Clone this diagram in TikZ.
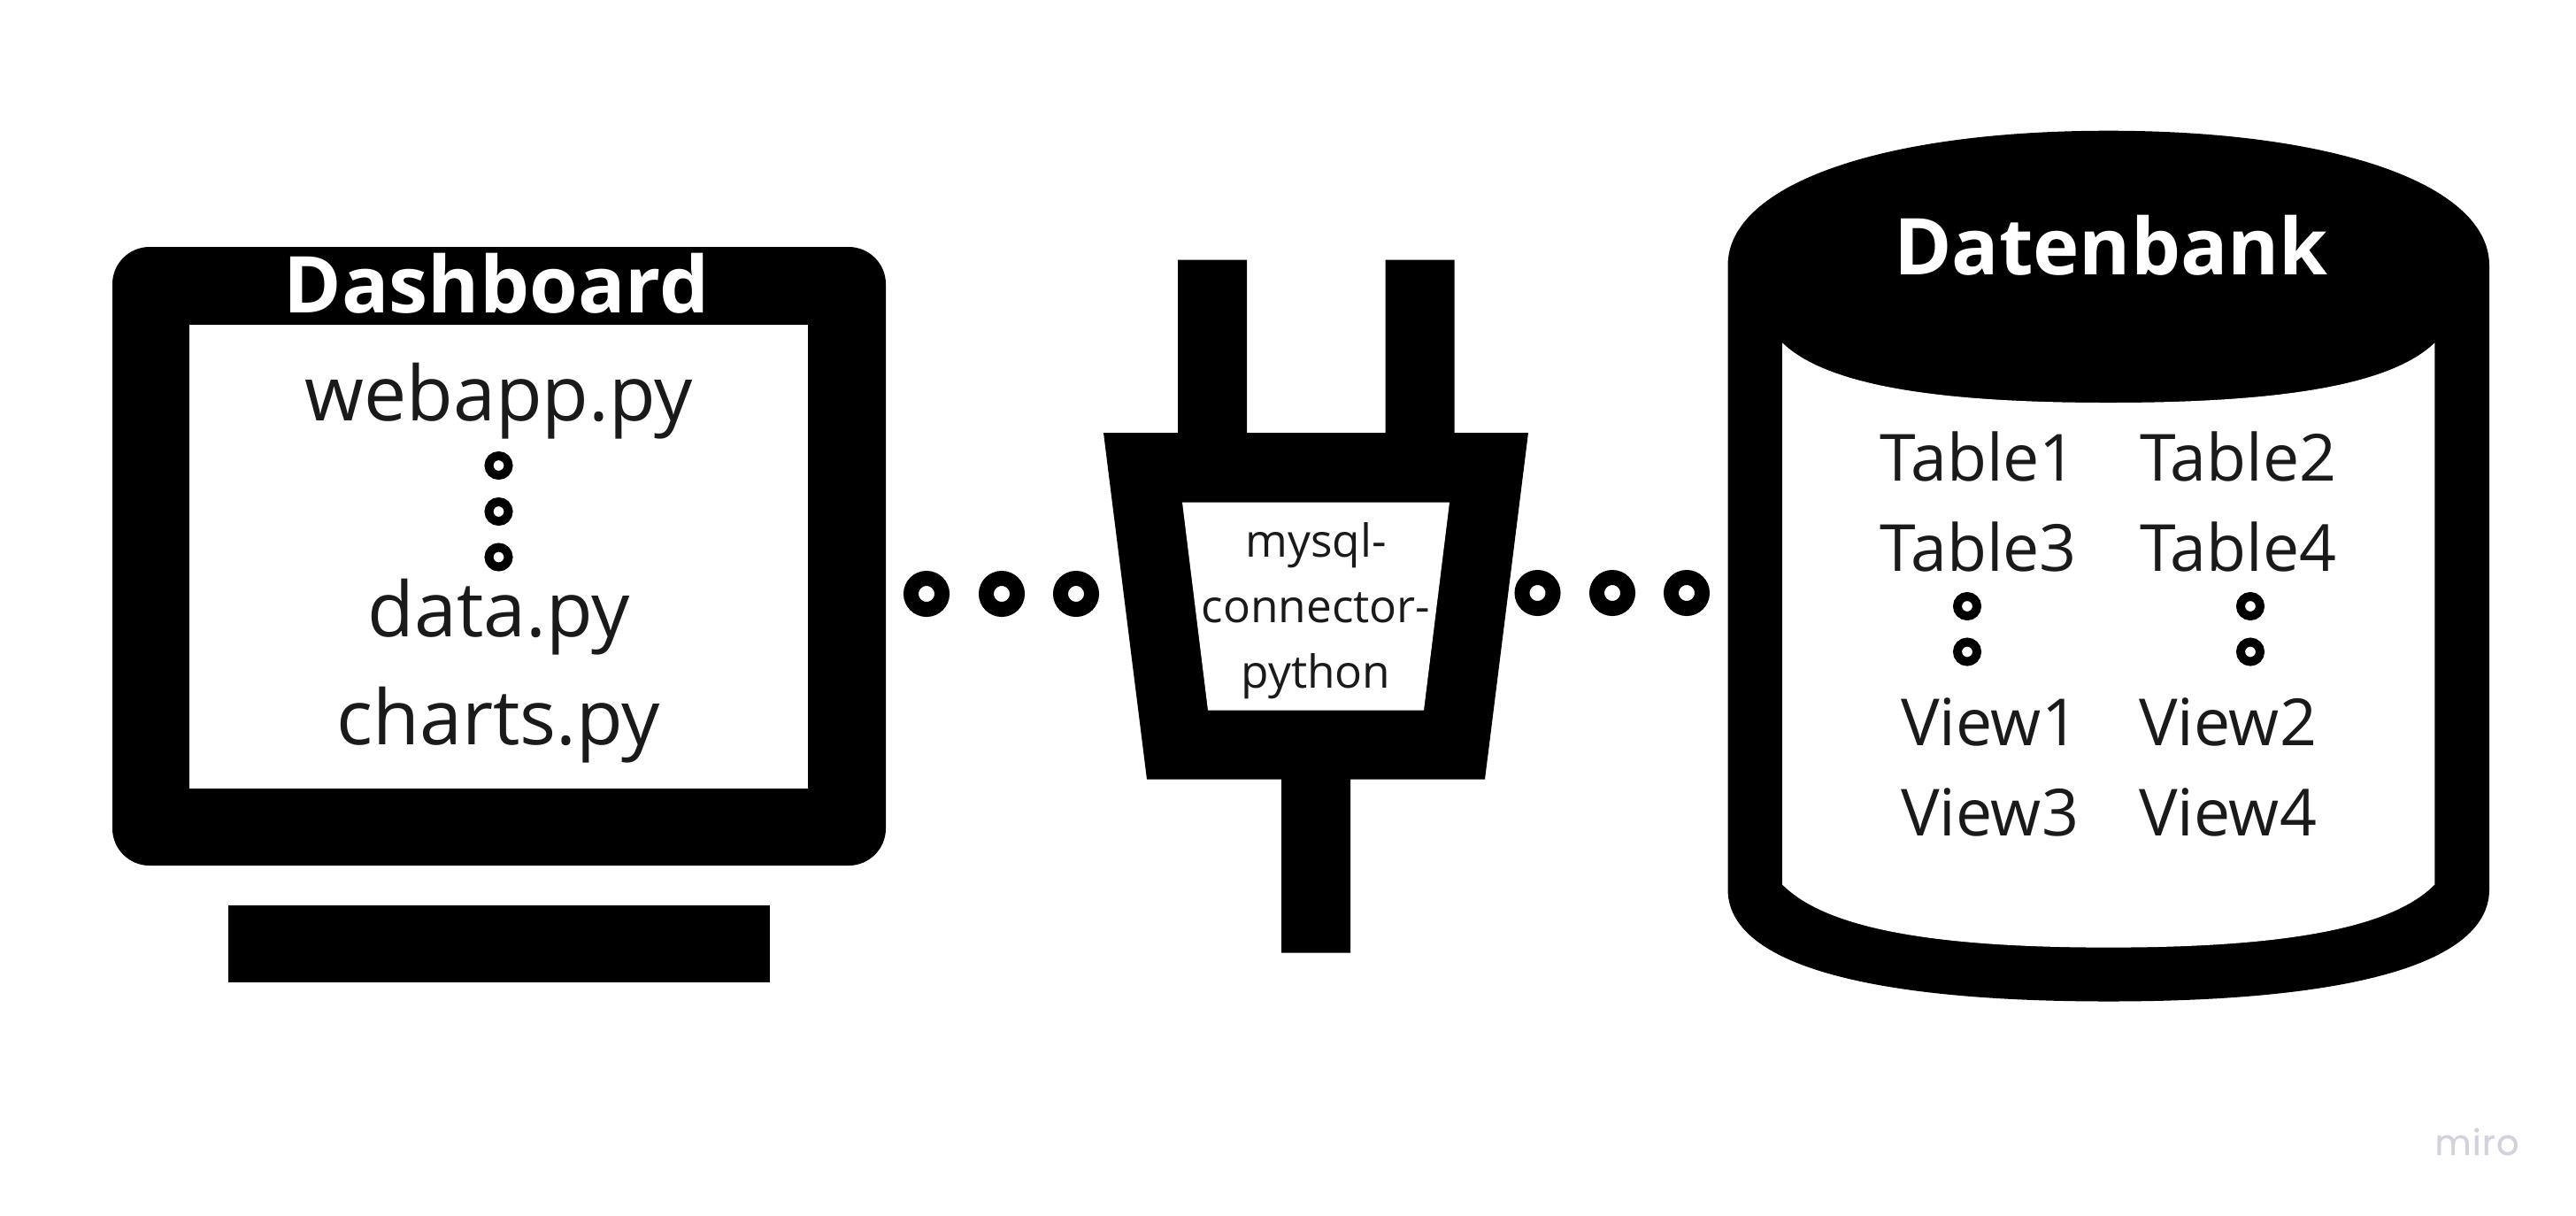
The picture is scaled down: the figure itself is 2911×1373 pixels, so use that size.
\documentclass[tikz,border=0pt]{standalone}
\usepackage{fontspec}
\setmainfont{Open Sans}
\newfontfamily\mirofont[LetterSpace=3,FakeBold=0.5]{Poppins}
\definecolor{ink}{HTML}{1A1A1A}
\definecolor{mirogray}{HTML}{D2D2DE}
\newcommand{\fsz}[1]{\fontsize{#1}{#1}\selectfont}
\tikzset{
  x=0.5pt,y=-0.5pt,
  solidshape/.style={fill=black,draw=none},
  hole/.style={fill=white,draw=none},
  label/.style={inner sep=0pt,outer sep=0pt,anchor=base,text=ink},
  titlelabel/.style={inner sep=0pt,outer sep=0pt,anchor=base,text=white,font=\bfseries\fsz{44.3}},
  filelabel/.style={label,font=\fsz{43}},
  dblabel/.style={inner sep=0pt,outer sep=0pt,anchor=base west,text=ink,font=\fsz{36.7}},
  pluglabel/.style={label,font=\fsz{25.7}},
  bigring/.style={circle,draw=black,line width=8.5pt,minimum size=17.5pt,inner sep=0pt,fill=white},
  smallring/.style={circle,draw=black,line width=5pt,minimum size=11pt,inner sep=0pt,fill=white},
}
\begin{document}
\begin{tikzpicture}
\useasboundingbox (0,0) rectangle (2911,1373);
\fill[white] (0,0) rectangle (2911,1373);
% monitor
\path[solidshape,rounded corners=21pt] (127,279) rectangle (1001,978);
\path[hole] (213.5,366.5) rectangle (913,891);
\path[solidshape] (258,1022.5) rectangle (870,1109.5);
\node[titlelabel] (dash) at (561,353) {Dashboard};
\node[filelabel] (webapp) at (563.5,475.5) {webapp.py};
\node[smallring] (fd1) at (563.5,526) {};
\node[smallring] (fd2) at (563.5,578) {};
\node[smallring] (fd3) at (563.5,629.5) {};
\node[filelabel] (datapy) at (563.5,719.5) {data.py};
\node[filelabel] (charts) at (563.5,841) {charts.py};
% left dots
\node[bigring] (l1) at (1047,671) {};
\node[bigring] (l2) at (1132,671) {};
\node[bigring] (l3) at (1216,671) {};
% plug
\path[solidshape] (1331,293.5) -- (1409,293.5) -- (1409,489) -- (1565.5,489) -- (1565.5,293.5) -- (1643.5,293.5) -- (1643.5,489)
  -- (1727,489) -- (1678,880.5) -- (1526,880.5) -- (1526,1076.5) -- (1448,1076.5) -- (1448,880.5) -- (1296,880.5) -- (1247,489) -- (1331,489) -- cycle;
\path[hole] (1336,567.5) -- (1638,567.5) -- (1609,802.5) -- (1365,802.5) -- cycle;
\node[pluglabel] (p1) at (1487,629.5) {mysql-};
\node[pluglabel] (p2) at (1487,703) {connector-};
\node[pluglabel] (p3) at (1487,777) {python};
% right dots
\node[bigring] (r1) at (1737.5,670) {};
\node[bigring] (r2) at (1822,670) {};
\node[bigring] (r3) at (1906,670) {};
% database
\path[solidshape] (1952.5,1005) -- (1952.5,300)
  .. controls (1952.5,209) and (2124.7,147.7) .. (2382.7,147.7)
  .. controls (2640.7,147.7) and (2813,209) .. (2813,300)
  -- (2813,1005)
  .. controls (2813,1087) and (2662.4,1131.5) .. (2382.7,1131.5)
  .. controls (2103,1131.5) and (1952.5,1087) .. (1952.5,1005) -- cycle;
\path[hole] (2014,387.3)
  .. controls (2062,433.5) and (2180,455) .. (2382.7,455)
  .. controls (2585.4,455) and (2703.4,433.5) .. (2751.4,387.3)
  -- (2751.4,999.3)
  .. controls (2703.4,1048) and (2585.4,1070.6) .. (2382.7,1070.6)
  .. controls (2180,1070.6) and (2062,1048) .. (2014,999.3) -- cycle;
\node[titlelabel] (db) at (2385.5,310.5) {Datenbank};
\node[dblabel] (t1) at (2124.5,543) {Table1};
\node[dblabel] (t2) at (2418,543) {Table2};
\node[dblabel] (t3) at (2124.5,645) {Table3};
\node[dblabel] (t4) at (2418,645) {Table4};
\node[smallring] (dl1) at (2223,685) {};
\node[smallring] (dl2) at (2223,736.5) {};
\node[smallring] (dr1) at (2543,685) {};
\node[smallring] (dr2) at (2543,736.5) {};
\node[dblabel] (v1) at (2148,842) {View1};
\node[dblabel] (v2) at (2417,842) {View2};
\node[dblabel] (v3) at (2148,944) {View3};
\node[dblabel] (v4) at (2417,944) {View4};
% watermark
\node[inner sep=0pt,anchor=base west,text=mirogray,font=\mirofont\fsz{20}] (miro) at (2751,1305) {miro};
\end{tikzpicture}
\end{document}
